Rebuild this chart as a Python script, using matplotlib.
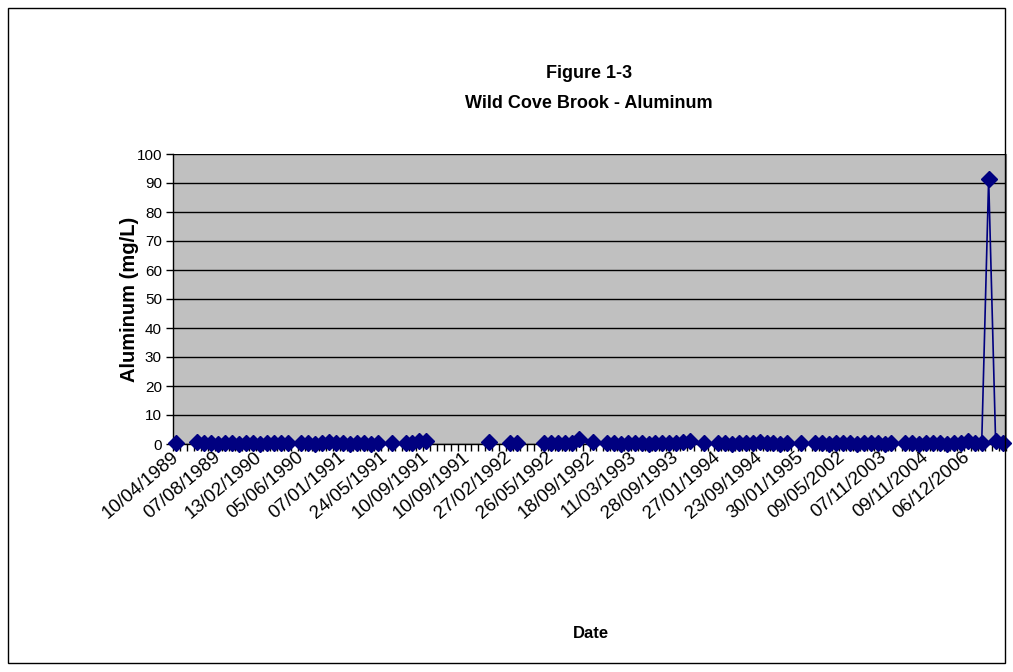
import matplotlib.pyplot as plt
import numpy as np
from matplotlib.patches import Rectangle

plt.rcParams['font.family'] = ['Liberation Sans', 'DejaVu Sans']

# 120 sampling categories, only every 6th one labelled on the axis
n_cat = 120
tick_labels = ["10/04/1989", "07/08/1989", "13/02/1990", "05/06/1990", "07/01/1991",
               "24/05/1991", "10/09/1991", "10/09/1991", "27/02/1992", "26/05/1992",
               "18/09/1992", "11/03/1993", "28/09/1993", "27/01/1994", "23/09/1994",
               "30/01/1995", "09/05/2002", "07/11/2003", "09/11/2004", "06/12/2006"]

# aluminum values (mg/L), None = no sample
aluminum = [
    0.2, None, None, 0.8, 0.2, 0.2, 0.1, 0.2, 0.2, 0.1, 0.2, 0.2, 0.1, 0.2, 0.2, 0.2, 0.2, None,  # 0-17
    0.2, 0.2, 0.1, 0.2, 0.8, 0.2, 0.2, 0.1, 0.2, 0.2, 0.1, 0.2, None, 0.3, None,                # 18-32
    0.3, 0.3, 0.9, 0.9,                                                                        # 33-36
    None, None, None, None, None, None, None, None,                                            # 37-44
    0.7, None, None, 0.3, 0.3, None, None, None,                                               # 45-52
    0.2, 0.2, 0.2, 0.3, 0.2, 1.8, None, 0.6, None,                                             # 53-61
    0.2, 0.2, 0.1, 0.2, 0.2, 0.2, 0.1, 0.2, 0.2, 0.2, 0.4, 0.8, 0.9, None, 0.3, None,          # 62-77
    0.2, 0.2, 0.1, 0.2, 0.2, 0.2, 0.8, 0.2, 0.2, 0.1, 0.2, None, 0.3, None,                    # 78-91
    0.2, 0.2, 0.1, 0.2, 0.2, 0.2, 0.1, 0.2, 0.2, 0.2, 0.1, 0.2, None,                          # 92-104
    0.2, 0.2, 0.1, 0.2, 0.3, 0.2, 0.1, 0.2, 0.2, 0.9, 0.2, 0.2, 91.5, 1.2, 0.2,                # 105-119
]

y = np.array([np.nan if v is None else v for v in aluminum], dtype=float)
x = np.arange(n_cat)

fig = plt.figure(figsize=(10.13, 6.72), dpi=100)
fig.patches.append(Rectangle((8 / 1013, 9 / 672), 997 / 1013, 655 / 672, transform=fig.transFigure,
                             fill=False, edgecolor='black', linewidth=1.0))

ax = fig.add_axes([173 / 1013, 228 / 672, 833 / 1013, 290 / 672])
ax.set_facecolor('#C0C0C0')

ax.plot(x, y, color='#000080', linewidth=1.2, marker='D', markersize=8,
        markerfacecolor='#000080', markeredgecolor='#000080', clip_on=False, zorder=3)

ax.set_xlim(-0.5, n_cat - 0.5)
ax.set_ylim(0, 100)
ax.set_yticks(np.arange(0, 101, 10))
ax.yaxis.grid(True, color='black', linewidth=1.0)
ax.set_axisbelow(True)

ax.set_xticks(np.arange(0, n_cat, 6))
ax.set_xticklabels(tick_labels, rotation=40, ha='right', va='center', rotation_mode='anchor')
ax.set_xticks(np.arange(-0.5, n_cat, 1), minor=True)
ax.tick_params(axis='x', which='major', length=0, pad=8, labelsize=13.5)
ax.tick_params(axis='x', which='minor', length=5, width=1, direction='out', color='black')
ax.tick_params(axis='y', length=5, width=1, direction='out', labelsize=11, pad=3)

for side in ['left', 'bottom']:
    ax.spines[side].set_color('black')
    ax.spines[side].set_linewidth(1.0)
ax.spines['top'].set_visible(False)
ax.spines['right'].set_color('#808080')

ax.set_ylabel("Aluminum (mg/L)", fontsize=14.5, fontweight='bold', labelpad=-2)

fig.text(589 / 1013, 1 - 73 / 672, "Figure 1-3", ha='center', va='center', fontsize=13, fontweight='bold')
fig.text(589 / 1013, 1 - 103 / 672, "Wild Cove Brook - Aluminum", ha='center', va='center',
         fontsize=13, fontweight='bold')
fig.text(591 / 1013, 1 - 633 / 672, "Date", ha='center', va='center', fontsize=12, fontweight='bold')

plt.savefig("out.png", dpi=100)
